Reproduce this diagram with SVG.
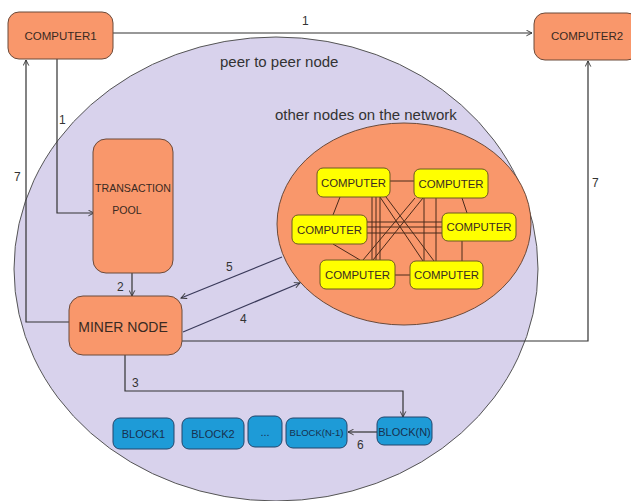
<svg xmlns="http://www.w3.org/2000/svg" width="631" height="501" viewBox="0 0 631 501">
<defs>
<marker id="arr" viewBox="0 0 10 10" refX="9" refY="5" markerWidth="7" markerHeight="7" orient="auto-start-reverse" markerUnits="userSpaceOnUse">
<path d="M1,1 L9,5 L1,9" fill="none" stroke="#333" stroke-width="1.3"/>
</marker>
<style>
text{font-family:"Liberation Sans",Arial,sans-serif;fill:#3a2a22}
.ln{fill:none;stroke:#333;stroke-width:1.2}
.net{fill:none;stroke:#4a2a1a;stroke-width:1}
.org{fill:#f9976b;stroke:#6b4a3a;stroke-width:1}
.yel{fill:#ffff00;stroke:#6b5a20;stroke-width:1}
.blu{fill:#1e9bd7;stroke:#23456a;stroke-width:1}
.lbl{font-size:12px;fill:#333}
.ct{font-size:11.4px;text-anchor:middle}
.bt{font-size:11px;text-anchor:middle;fill:#17304f}
</style>
</defs>
<rect width="631" height="501" fill="#fff"/>
<g id="p2p">
<ellipse cx="276" cy="269" rx="262" ry="232" fill="#d8d2ec" stroke="#555" stroke-width="1"/>
<text x="220" y="67" style="font-size:15px;fill:#333">peer to peer node</text>
<text x="275" y="120" style="font-size:15px;fill:#333">other nodes on the network</text>
</g>
<g id="network">
<ellipse cx="404" cy="224" rx="127" ry="101" class="org"/>
<g class="net">
<line x1="390" y1="181" x2="414" y2="181"/>
<line x1="340" y1="197" x2="333" y2="215"/>
<line x1="462" y1="198" x2="467" y2="213"/>
<line x1="367" y1="222" x2="442" y2="222"/>
<line x1="367" y1="227" x2="442" y2="227"/>
<line x1="367" y1="233" x2="442" y2="233"/>
<line x1="372" y1="197" x2="372" y2="260"/>
<line x1="376" y1="197" x2="376" y2="260"/>
<line x1="380" y1="197" x2="380" y2="260"/>
<line x1="424" y1="198" x2="424" y2="261"/>
<line x1="436" y1="198" x2="436" y2="261"/>
<line x1="462" y1="241" x2="462" y2="261"/>
<line x1="333" y1="244" x2="360" y2="260"/>
<line x1="395" y1="275" x2="410" y2="275"/>
<line x1="380" y1="197" x2="423" y2="261"/>
<line x1="386" y1="197" x2="434" y2="261"/>
<line x1="415" y1="198" x2="363" y2="260"/>
<line x1="423" y1="198" x2="373" y2="260"/>
</g>
<g id="nc1"><rect x="317" y="168" width="73" height="29" rx="6" class="yel"/><text x="353.5" y="186.5" class="ct">COMPUTER</text></g>
<g id="nc2"><rect x="414" y="169" width="74" height="29" rx="6" class="yel"/><text x="451" y="187.5" class="ct">COMPUTER</text></g>
<g id="nc3"><rect x="292" y="215" width="75" height="29" rx="6" class="yel"/><text x="329.5" y="233.5" class="ct">COMPUTER</text></g>
<g id="nc4"><rect x="442" y="213" width="74" height="28" rx="6" class="yel"/><text x="479" y="231" class="ct">COMPUTER</text></g>
<g id="nc5"><rect x="320" y="260" width="75" height="29" rx="6" class="yel"/><text x="357.5" y="278.5" class="ct">COMPUTER</text></g>
<g id="nc6"><rect x="410" y="261" width="73" height="28" rx="6" class="yel"/><text x="446.5" y="279" class="ct">COMPUTER</text></g>
</g>
<g id="connectors">
<line x1="113" y1="33" x2="532" y2="33" class="ln" marker-end="url(#arr)"/>
<polyline points="57,59 57,213 94,213" class="ln" marker-end="url(#arr)"/>
<line x1="132" y1="273" x2="132" y2="296" class="ln" marker-end="url(#arr)"/>
<polyline points="69,322 26,322 26,60" class="ln" marker-end="url(#arr)"/>
<polyline points="182,341 588,341 588,61" class="ln" marker-end="url(#arr)"/>
<line x1="282" y1="257" x2="181" y2="298" class="ln" style="stroke:#3a3a5a" marker-end="url(#arr)"/>
<line x1="183" y1="332" x2="300" y2="283" class="ln" style="stroke:#3a3a5a" marker-end="url(#arr)"/>
<polyline points="125,355 125,391 403,391 403,417" class="ln" marker-end="url(#arr)"/>
<line x1="377" y1="432" x2="348" y2="432" class="ln" marker-end="url(#arr)"/>
<text x="302" y="25" class="lbl">1</text>
<text x="59" y="124" class="lbl">1</text>
<text x="117" y="291" class="lbl">2</text>
<text x="14" y="181" class="lbl">7</text>
<text x="592" y="187" class="lbl">7</text>
<text x="226" y="271" class="lbl">5</text>
<text x="240" y="323" class="lbl">4</text>
<text x="132" y="387" class="lbl">3</text>
<text x="357" y="449" class="lbl">6</text>
</g>
<g id="computer1"><rect x="8" y="12" width="105" height="47" rx="11" class="org"/><text x="60.5" y="40" style="font-size:11.5px;text-anchor:middle">COMPUTER1</text></g>
<g id="computer2"><rect x="534" y="13" width="104" height="47" rx="11" class="org"/><text x="587" y="40" style="font-size:11.5px;text-anchor:middle">COMPUTER2</text></g>
<g id="pool"><rect x="93" y="139" width="80" height="134" rx="13" class="org"/><text x="133" y="192" style="font-size:10.6px;text-anchor:middle">TRANSACTION</text><text x="127" y="214" style="font-size:10.6px;text-anchor:middle">POOL</text></g>
<g id="miner"><rect x="69" y="296" width="113" height="59" rx="14" class="org"/><text x="123" y="332" style="font-size:14px;text-anchor:middle">MINER NODE</text></g>
<g id="block1"><rect x="113" y="418" width="61" height="31" rx="7" class="blu"/><text x="143.5" y="438" class="bt">BLOCK1</text></g>
<g id="block2"><rect x="182" y="418" width="62" height="31" rx="7" class="blu"/><text x="213" y="438" class="bt">BLOCK2</text></g>
<g id="dots"><rect x="248" y="416" width="34" height="31" rx="7" class="blu"/><text x="265" y="436" class="bt">...</text></g>
<g id="blockn1"><rect x="286" y="418" width="61" height="30" rx="7" class="blu"/><text x="316.5" y="436" class="bt" style="font-size:9.5px">BLOCK(N-1)</text></g>
<g id="blockn"><rect x="377" y="417" width="55" height="28" rx="7" class="blu"/><text x="404.5" y="436" class="bt">BLOCK(N)</text></g>
</svg>
